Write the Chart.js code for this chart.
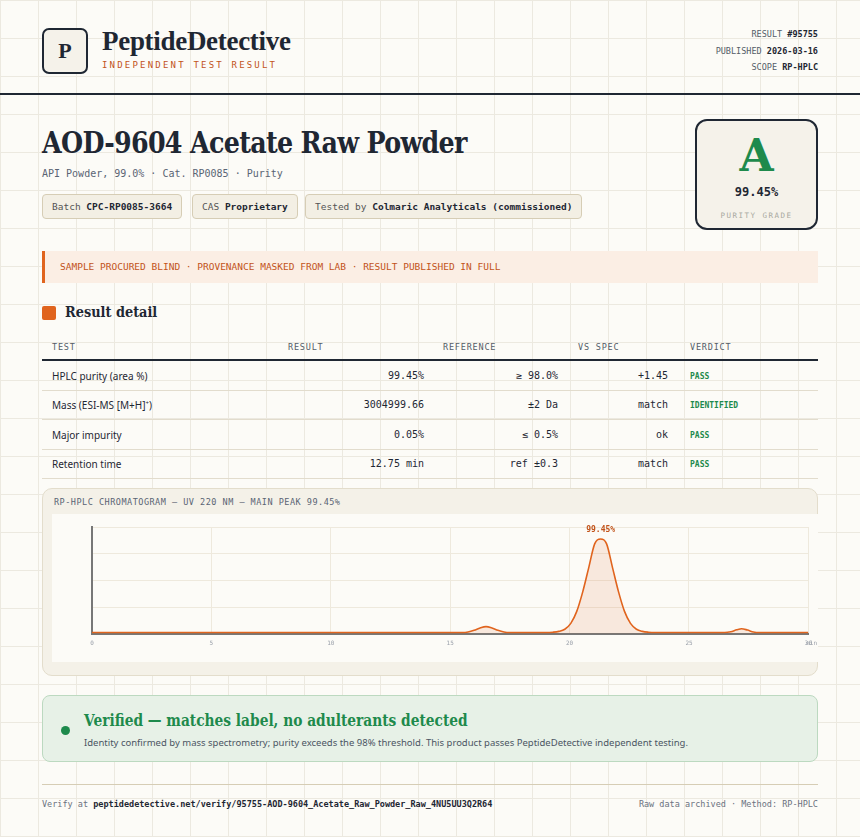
<!DOCTYPE html>
<html><head><meta charset="utf-8">
<script src="https://cdn.jsdelivr.net/npm/chart.js@4.4.1/dist/chart.umd.min.js"></script>
<style>
*{box-sizing:border-box;margin:0;padding:0}
body{width:860px;height:837px;position:relative;overflow:hidden;background-color:#fcfbf7;
background-image:linear-gradient(#ece9e0 1px,transparent 1px),linear-gradient(90deg,#ece9e0 1px,transparent 1px);background-size:38px 38px;background-position:0 0;font-family:"DejaVu Sans Mono",monospace;color:#1f2733}
.abs{position:absolute}
.mono{font-family:"DejaVu Sans Mono",monospace}
.logo{left:42px;top:28px;width:46px;height:46px;border:2px solid #1f2733;border-radius:7px;background:#f5f2ea;font:bold 22px "Liberation Serif",serif;display:flex;align-items:center;justify-content:center}
.brand{left:102px;top:26px;font:600 27px "Liberation Serif",serif;letter-spacing:-0.3px}
.sub{left:102px;top:60px;font-size:9px;color:#c2531a;letter-spacing:2.2px}
.meta{right:42px;font-size:8.5px;color:#555d68;text-align:right}
.meta b{color:#1f2733}
.rule{left:0;top:93px;width:860px;height:2px;background:#1f2733}
h1{position:absolute;left:42px;top:126px;font:bold 29px "DejaVu Serif",serif;letter-spacing:-0.8px;transform:scaleX(0.875);transform-origin:left;white-space:nowrap}
.cat{left:42px;top:168px;font-size:10px;color:#5a6474}
.chip{top:194px;height:25px;border:1px solid #d6cdb5;border-radius:4px;background:#f3efe4;font-size:9.5px;color:#555;padding:0 9px;line-height:23px}
.chip b{color:#1f2733}
.grade{left:695px;top:119px;width:123px;height:111px;border:2px solid #1f2733;border-radius:12px;background:#f5f2ea;text-align:center}
.banner{left:42px;top:251px;width:776px;height:32px;background:#fbeee4;border-left:3px solid #e0641e;font-size:9.5px;color:#c2531a;line-height:32px;padding-left:15px}
.sq{left:42px;top:306px;width:14px;height:14px;background:#e0641e;border-radius:2px}
.rd{left:65px;top:303px;font:bold 15px "DejaVu Serif",serif;transform:scaleX(0.86);transform-origin:left;white-space:nowrap}
.th{top:342px;font-size:8.5px;color:#555d68;letter-spacing:0.8px}
.hl{left:42px;width:776px;height:1px;background:#e2dccd}
.td{font-size:10px;color:#1f2733}
.sans{font-family:"Noto Sans",sans-serif;font-size:10px}
.pass{font-size:8px;font-weight:bold;color:#1e8a4c}
.card{left:42px;top:488px;width:776px;height:188px;background:#f4f1e8;border:1px solid #e3ddcc;border-radius:10px}
.ct{left:54px;top:497px;font-size:8.5px;color:#5a6474;letter-spacing:0.5px}
.cbox{left:52px;top:514px;width:766px;height:148px;background:#fcfbf7}
.ver{left:42px;top:695px;width:776px;height:67px;background:#e7f1e7;border:1px solid #bcd9c0;border-radius:8px}
.foot{top:799px;font-size:8.5px;color:#6b7280}
.foot b{color:#1f2733}
</style></head><body>
<div class="abs logo">P</div>
<div class="abs brand">PeptideDetective</div>
<div class="abs mono sub">INDEPENDENT TEST RESULT</div>
<div class="abs meta" style="top:29px">RESULT <b>#95755</b></div>
<div class="abs meta" style="top:46px">PUBLISHED <b>2026-03-16</b></div>
<div class="abs meta" style="top:62px">SCOPE <b>RP-HPLC</b></div>
<div class="abs rule"></div>
<h1>AOD-9604 Acetate Raw Powder</h1>
<div class="abs cat">API Powder, 99.0% · Cat. RP0085 · Purity</div>
<div class="abs chip" style="left:42px">Batch <b>CPC-RP0085-3664</b></div>
<div class="abs chip" style="left:192px">CAS <b>Proprietary</b></div>
<div class="abs chip" style="left:305px">Tested by <b>Colmaric Analyticals (commissioned)</b></div>
<div class="abs grade">
 <div style="font:bold 44px 'DejaVu Serif',serif;color:#1e8a4c;margin-top:12px;line-height:46px">A</div>
 <div style="font-size:12px;margin-top:6px;font-weight:600">99.45%</div>
 <div style="font-size:7.5px;color:#a8a9a0;letter-spacing:1.5px;margin-top:12px">PURITY GRADE</div>
</div>
<div class="abs banner">SAMPLE PROCURED BLIND · PROVENANCE MASKED FROM LAB · RESULT PUBLISHED IN FULL</div>
<div class="abs sq"></div>
<div class="abs rd">Result detail</div>
<div class="abs th" style="left:52px">TEST</div>
<div class="abs th" style="left:288px">RESULT</div>
<div class="abs th" style="left:443px">REFERENCE</div>
<div class="abs th" style="left:578px">VS SPEC</div>
<div class="abs th" style="left:690px">VERDICT</div>
<div class="abs hl" style="top:359px;height:2px;background:#1f2733"></div>
<div id="rows"></div>
<div class="abs card"></div>
<div class="abs ct">RP-HPLC CHROMATOGRAM — UV 220 NM — MAIN PEAK 99.45%</div>
<div class="abs cbox"><canvas id="c" width="766" height="148"></canvas></div>
<div class="abs ver"></div>
<div class="abs" style="left:61px;top:726px;width:9px;height:9px;border-radius:50%;background:#1e8a4c"></div>
<div class="abs" style="left:84px;top:711px;font:bold 16px 'DejaVu Serif',serif;color:#1e8a4c;transform:scaleX(0.86);transform-origin:left;white-space:nowrap">Verified — matches label, no adulterants detected</div>
<div class="abs" style="left:84px;top:736px;font:9.5px 'Noto Sans',sans-serif;color:#4b5563">Identity confirmed by mass spectrometry; purity exceeds the 98% threshold. This product passes PeptideDetective independent testing.</div>
<div class="abs hl" style="top:784px;background:#d6cdb5"></div>
<div class="abs foot" style="left:42px">Verify at <b>peptidedetective.net/verify/95755-AOD-9604_Acetate_Raw_Powder_Raw_4NU5UU3Q2R64</b></div>
<div class="abs foot" style="right:42px">Raw data archived · Method: RP-HPLC</div>
<script>
const tests=["HPLC purity (area %)","Mass (ESI-MS [M+H]<sup style='font-size:6px'>+</sup>)","Major impurity","Retention time"];
const results=["99.45%","3004999.66","0.05%","12.75 min"];
const refs=["≥ 98.0%","±2 Da","≤ 0.5%","ref ±0.3"];
const vsSpec=["+1.45","match","ok","match"];
const verdicts=["PASS","IDENTIFIED","PASS","PASS"];
const tracePoints=[[0,0.05],[5,0.05],[10,0.05],[15,0.05],[15.5,0.05],[15.75,0.07],[16,0.13],[16.25,0.22],[16.5,0.27],[16.75,0.22],[17,0.13],[17.25,0.07],[17.5,0.05],[19,0.05],[19.3,0.06],[19.55,0.09],[19.8,0.17],[20.05,0.39],[20.3,0.84],[20.55,1.57],[20.8,2.47],[21.05,3.37],[21.3,3.55],[21.55,3.37],[21.8,2.47],[22.05,1.57],[22.3,0.84],[22.55,0.39],[22.8,0.17],[23.05,0.09],[23.3,0.06],[23.6,0.05],[26.5,0.05],[26.75,0.08],[27,0.15],[27.2,0.19],[27.45,0.14],[27.7,0.07],[27.95,0.05],[30,0.05]];
const xTicks=[0,5,10,15,20,25,30];
const xUnit="min";
const peakLabel="99.45%";
const rowTops=[370,399,429,458];
let h="";
for(let i=0;i<4;i++){const t=rowTops[i];
h+=`<div class="abs sans" style="left:52px;top:${t-1}px">${tests[i]}</div>
<div class="abs td" style="right:436px;top:${t}px">${results[i]}</div>
<div class="abs td" style="right:302px;top:${t}px">${refs[i]}</div>
<div class="abs td" style="right:192px;top:${t}px">${vsSpec[i]}</div>
<div class="abs pass" style="left:690px;top:${t+2}px">${verdicts[i]}</div>
<div class="abs hl" style="top:${t+20}px"></div>`;}
document.getElementById('rows').innerHTML=h;
const labelPlugin={id:'pl',afterDatasetsDraw(ch){const x=ch.scales.x.getPixelForValue(21.3),y=ch.scales.y.getPixelForValue(3.55);const c=ch.ctx;c.save();c.font='bold 8px "DejaVu Sans Mono"';c.fillStyle='#c2531a';c.textAlign='center';c.fillText(peakLabel,x,y-7);
c.font='6px "DejaVu Sans Mono"';c.fillStyle='#9aa0aa';c.textAlign='right';c.textBaseline='top';c.fillText(xUnit,ch.width-1,ch.scales.x.top+7);c.restore();}};
new Chart(document.getElementById('c'),{type:'line',
data:{datasets:[{data:tracePoints.map(p=>({x:p[0],y:p[1]})),borderColor:'#e0641e',borderWidth:1.6,backgroundColor:'rgba(224,100,30,0.12)',fill:'origin',pointRadius:0,cubicInterpolationMode:'monotone'}]},
options:{responsive:false,animation:false,layout:{padding:{left:0,right:8,top:13,bottom:9}},
plugins:{legend:{display:false},tooltip:{enabled:false}},
scales:{x:{type:'linear',min:0,max:30,afterBuildTicks:a=>{a.ticks=xTicks.map(v=>({value:v}))},ticks:{font:{family:'DejaVu Sans Mono',size:6},color:'#9aa0aa',maxRotation:0,padding:6},grid:{color:'#eee9dd',drawTicks:false},border:{color:'#777',width:2}},
y:{min:0,max:4,ticks:{display:false,stepSize:1},grid:{color:'#eee9dd',drawTicks:false},border:{color:'#777',width:2},afterFit:s=>{s.width=40}}}},
plugins:[labelPlugin]});
</script>
</body></html>
